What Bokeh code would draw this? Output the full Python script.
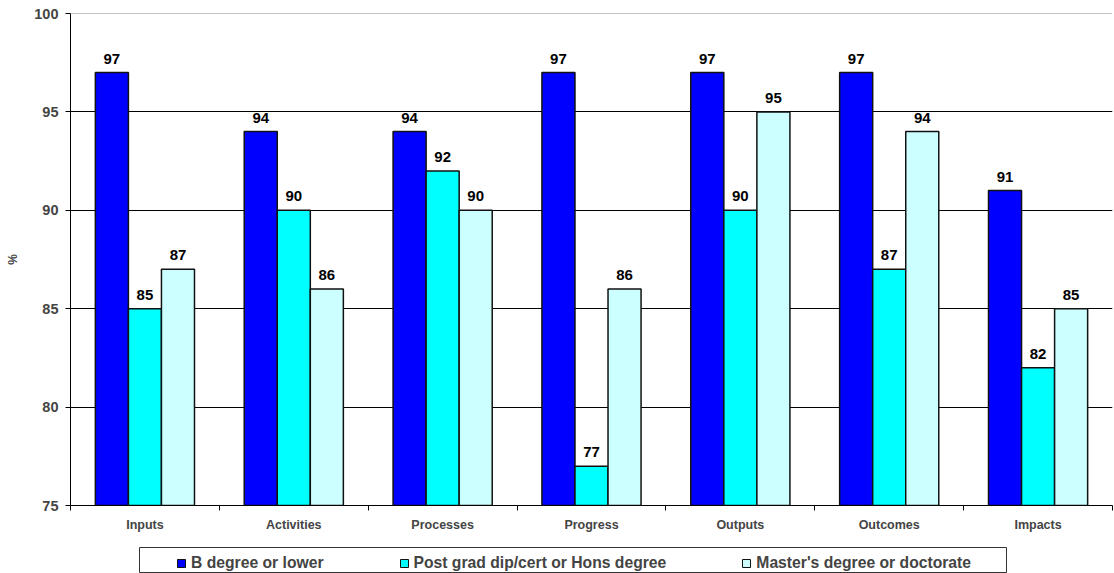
from bokeh.plotting import figure
from bokeh.layouts import column, row
from bokeh.models import (ColumnDataSource, FixedTicker, Legend, LegendItem,
                          LabelSet, Span, Spacer)
from bokeh.core.properties import value
from bokeh.transform import dodge
from bokeh.embed import file_html
from bokeh.resources import INLINE

# Survey results by qualification level
categories = ["Inputs", "Activities", "Processes", "Progress", "Outputs", "Outcomes", "Impacts"]
series_names = ["B degree or lower", "Post grad dip/cert or Hons degree", "Master's degree or doctorate"]
b_degree = [97, 94, 94, 97, 97, 97, 91]
postgrad = [85, 90, 92, 77, 90, 87, 82]
masters = [87, 86, 90, 86, 95, 94, 85]
y_ticks = [75, 80, 85, 90, 95, 100]

colors = ["#0000FF", "#00FFFF", "#CCFFFF"]
FONT = "Liberation Sans"
y_min, y_max = y_ticks[0], y_ticks[-1]

centers = [i + 0.5 for i in range(len(categories))]
src = ColumnDataSource(dict(
    pos=centers,
    s0=b_degree, s1=postgrad, s2=masters,
    t0=[str(v) for v in b_degree],
    t1=[str(v) for v in postgrad],
    t2=[str(v) for v in masters],
))

p = figure(width=1114, height=547, x_range=(0, len(categories)), y_range=(y_min, y_max),
           output_backend="svg", toolbar_location=None,
           min_border_left=70, min_border_right=2, min_border_top=13, min_border_bottom=42)
p.outline_line_color = None

bar_w = 0.222
offsets = [-bar_w, 0.0, bar_w]
for k, off in enumerate(offsets):
    p.vbar(x=dodge("pos", off, range=p.x_range), top=f"s{k}", bottom=y_min, width=bar_w,
           source=src, fill_color=colors[k], line_color="#111111", line_width=1.5)
    p.add_layout(LabelSet(x=dodge("pos", off, range=p.x_range), y=f"s{k}", text=f"t{k}", source=src,
                          text_align="center", text_baseline="bottom", y_offset=9,
                          text_font=value(FONT), text_font_style="bold", text_font_size="15px",
                          text_color="black"))

# grid: black lines inside, grey line on top
p.xgrid.grid_line_color = None
p.ygrid.ticker = FixedTicker(ticks=y_ticks[1:-1])
p.ygrid.grid_line_color = "black"
p.ygrid.grid_line_width = 1
p.add_layout(Span(location=y_max, dimension="width", line_color="#888888", line_width=1))

# y axis
p.yaxis.ticker = FixedTicker(ticks=y_ticks)
p.yaxis.axis_label = "%"
p.yaxis.axis_label_text_font = FONT
p.yaxis.axis_label_text_font_style = "bold"
p.yaxis.axis_label_text_font_size = "12px"
p.yaxis.axis_label_standoff = 11
p.yaxis.major_label_text_font = FONT
p.yaxis.major_label_text_font_style = "bold"
p.yaxis.major_label_text_font_size = "14.5px"
p.yaxis.major_label_standoff = 7
p.yaxis.major_tick_out = 5
p.yaxis.major_tick_in = 0
p.yaxis.minor_tick_line_color = None
p.yaxis.axis_line_color = "black"
p.yaxis.major_tick_line_color = "black"

# x axis: labels at category centres, ticks on category boundaries
p.xaxis.ticker = FixedTicker(ticks=centers, minor_ticks=list(range(len(categories) + 1)))
p.xaxis.major_label_overrides = {c: name for c, name in zip(centers, categories)}
p.xaxis.major_label_text_font = FONT
p.xaxis.major_label_text_font_style = "bold"
p.xaxis.major_label_text_font_size = "12.5px"
p.xaxis.major_label_standoff = 7
p.xaxis.major_tick_out = 0
p.xaxis.major_tick_in = 0
p.xaxis.minor_tick_out = 5
p.xaxis.minor_tick_in = 0
p.xaxis.minor_tick_line_color = "black"
p.xaxis.axis_line_color = "black"

# legend strip: its frame outline forms the legend border; the swatch
# renderers share the bar data but fall outside this strip's y range
lg = figure(width=868, height=26, x_range=(0, len(categories)), y_range=(0, 1),
            output_backend="svg", toolbar_location=None,
            x_axis_type=None, y_axis_type=None,
            min_border_left=0, min_border_right=0, min_border_top=0, min_border_bottom=0)
lg.xgrid.grid_line_color = None
lg.ygrid.grid_line_color = None
lg.outline_line_color = "#333333"
lg.outline_line_width = 1
swatches = [lg.quad(left="pos", right="pos", top=f"s{k}", bottom=y_min, source=src,
                    fill_color=c, line_color="#111111", line_width=1)
            for k, c in enumerate(colors)]
legend = Legend(
    items=[LegendItem(label=name, renderers=[r]) for name, r in zip(series_names, swatches)],
    orientation="horizontal", location=(37, 1),
    glyph_width=10, glyph_height=10, label_standoff=5, spacing=75, padding=0, margin=0,
    label_text_font=FONT, label_text_font_style="bold", label_text_font_size="15.7px",
    border_line_color=None, background_fill_alpha=0,
)
lg.add_layout(legend, "center")

layout = column(p, row(Spacer(width=139), lg))
open("out.html", "w").write(file_html(layout, INLINE))
